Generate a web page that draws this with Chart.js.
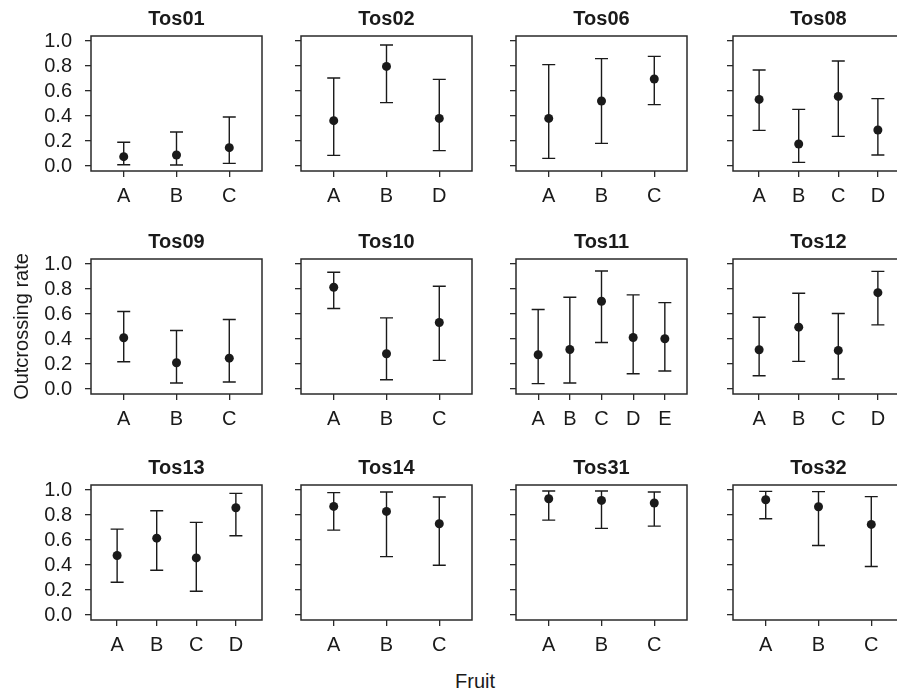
<!DOCTYPE html>
<html>
<head>
<meta charset="utf-8">
<script src="https://cdn.jsdelivr.net/npm/chart.js@4.4.1/dist/chart.umd.min.js"></script>
<style>
  html, body { margin: 0; padding: 0; background: #ffffff; overflow: hidden; }
  body { width: 897px; height: 691px; position: relative; }
  canvas { position: absolute; }
  #fruit-label {
    position: absolute; left: 475px; top: 669px; transform: translateX(-50%);
    font: 20px "Liberation Sans", Arial, sans-serif; line-height: 24px; color: #1a1a1a;
  }
</style>
</head>
<body>
<div id="fruit-label">Fruit</div>
<script>
// One panel per population, fruits within each
const panelNames = ['Tos01', 'Tos02', 'Tos06', 'Tos08',
                    'Tos09', 'Tos10', 'Tos11', 'Tos12',
                    'Tos13', 'Tos14', 'Tos31', 'Tos32'];

const fruitLabels = [
    ['A', 'B', 'C'], ['A', 'B', 'D'], ['A', 'B', 'C'], ['A', 'B', 'C', 'D'],
    ['A', 'B', 'C'], ['A', 'B', 'C'], ['A', 'B', 'C', 'D', 'E'], ['A', 'B', 'C', 'D'],
    ['A', 'B', 'C', 'D'], ['A', 'B', 'C'], ['A', 'B', 'C'], ['A', 'B', 'C']
];

const rateMean = [
    [0.075, 0.088, 0.147], [0.363, 0.797, 0.381], [0.381, 0.52, 0.696], [0.533, 0.176, 0.557, 0.288],
    [0.41, 0.21, 0.247], [0.814, 0.282, 0.532], [0.274, 0.316, 0.702, 0.412, 0.402], [0.314, 0.495, 0.309, 0.771],
    [0.476, 0.615, 0.457, 0.858], [0.869, 0.829, 0.73], [0.93, 0.917, 0.896], [0.922, 0.866, 0.725]
];

const rateLower = [
    [0.01, 0.008, 0.021], [0.085, 0.507, 0.123], [0.061, 0.181, 0.491], [0.285, 0.029, 0.237, 0.088],
    [0.218, 0.048, 0.056], [0.644, 0.074, 0.229], [0.043, 0.048, 0.372, 0.122, 0.144], [0.106, 0.221, 0.08, 0.513],
    [0.262, 0.358, 0.19, 0.634], [0.679, 0.467, 0.398], [0.759, 0.693, 0.711], [0.77, 0.556, 0.388]
];

const rateUpper = [
    [0.19, 0.272, 0.392], [0.704, 0.968, 0.693], [0.811, 0.859, 0.877], [0.768, 0.453, 0.84, 0.539],
    [0.62, 0.468, 0.556], [0.934, 0.569, 0.822], [0.636, 0.734, 0.944, 0.753, 0.691], [0.574, 0.766, 0.604, 0.941],
    [0.687, 0.834, 0.741, 0.973], [0.979, 0.984, 0.944], [0.992, 0.992, 0.984], [0.989, 0.987, 0.947]
];

const yTicks = [0, 0.2, 0.4, 0.6, 0.8, 1.0];

// page layout of the plot boxes
const colLeft = [91, 301, 515.7, 733];
const rowTop = [35.7, 259, 485.3];
const boxW = 171, boxH = 135;
const sideW = 90, titleH = 35, bottomH = 45;

const FONT = '"Liberation Sans", Arial, Helvetica, sans-serif';
const INK = '#1a1a1a';

Chart.defaults.font.family = FONT;
Chart.defaults.color = INK;

// whiskers with caps, drawn before the points
const errorBars = {
    id: 'errorBars',
    beforeDatasetsDraw(chart, args, opts) {
        const { ctx, scales: { x, y } } = chart;
        ctx.save();
        ctx.strokeStyle = INK;
        ctx.lineWidth = 1.4;
        opts.lower.forEach((lo, i) => {
            const px = x.getPixelForValue(i + 1);
            const yLo = y.getPixelForValue(lo);
            const yHi = y.getPixelForValue(opts.upper[i]);
            ctx.beginPath();
            ctx.moveTo(px, yLo); ctx.lineTo(px, yHi);
            ctx.moveTo(px - 6.5, yLo); ctx.lineTo(px + 6.5, yLo);
            ctx.moveTo(px - 6.5, yHi); ctx.lineTo(px + 6.5, yHi);
            ctx.stroke();
        });
        ctx.restore();
    }
};

// the frame round each panel
const frameBox = {
    id: 'frameBox',
    afterDraw(chart) {
        const { ctx, chartArea: a } = chart;
        ctx.save();
        ctx.strokeStyle = '#2a2a2a';
        ctx.lineWidth = 1.5;
        ctx.strokeRect(a.left, a.top, a.right - a.left, a.bottom - a.top);
        ctx.restore();
    }
};

panelNames.forEach((name, p) => {
    const row = Math.floor(p / 4), col = p % 4;
    const cats = fruitLabels[p];
    const n = cats.length;

    const canvas = document.createElement('canvas');
    canvas.width = sideW * 2 + boxW;
    canvas.height = titleH + boxH + bottomH;
    canvas.style.left = (colLeft[col] - sideW) + 'px';
    canvas.style.top = (rowTop[row] - titleH) + 'px';
    document.body.appendChild(canvas);

    new Chart(canvas, {
        type: 'scatter',
        data: {
            datasets: [{
                data: rateMean[p].map((v, i) => ({ x: i + 1, y: v })),
                backgroundColor: INK,
                borderWidth: 0,
                pointRadius: 4.5,
                pointHoverRadius: 4.5
            }]
        },
        options: {
            responsive: false,
            animation: false,
            devicePixelRatio: 1,
            layout: { padding: { left: 0, right: sideW, top: 0, bottom: 0 } },
            plugins: {
                legend: { display: false },
                tooltip: { enabled: false },
                title: {
                    display: true,
                    fullSize: false, // centre over the plot box only
                    text: name,
                    color: INK,
                    font: { size: 20, weight: 'bold', family: FONT },
                    padding: { top: 6, bottom: 5 }
                },
                errorBars: { lower: rateLower[p], upper: rateUpper[p] }
            },
            scales: {
                x: {
                    type: 'linear',
                    // R style: half a slot either side plus 4%
                    min: 0.5 - 0.04 * n,
                    max: n + 0.5 + 0.04 * n,
                    afterBuildTicks: s => { s.ticks = cats.map((c, i) => ({ value: i + 1 })); },
                    afterFit: s => { s.height = bottomH; },
                    grid: { drawOnChartArea: false, drawTicks: true, tickLength: 6, color: '#2a2a2a', lineWidth: 1.3 },
                    border: { display: false },
                    ticks: {
                        autoSkip: false,
                        maxRotation: 0,
                        padding: 7,
                        color: INK,
                        font: { size: 20, family: FONT },
                        callback: v => cats[Math.round(v) - 1]
                    }
                },
                y: {
                    min: -0.04,
                    max: 1.04,
                    afterBuildTicks: s => { s.ticks = yTicks.map(v => ({ value: v })); },
                    afterFit: s => { s.width = sideW; },
                    grid: { drawOnChartArea: false, drawTicks: true, tickLength: 6, color: '#2a2a2a', lineWidth: 1.3 },
                    border: { display: false },
                    ticks: {
                        padding: 13,
                        color: INK,
                        font: { size: 20, family: FONT },
                        callback: v => col === 0 ? v.toFixed(1) : ''
                    },
                    title: {
                        display: p === 4,
                        text: 'Outcrossing rate',
                        color: INK,
                        font: { size: 20, family: FONT },
                        padding: { top: 9, bottom: 0 }
                    }
                }
            }
        },
        plugins: [errorBars, frameBox]
    });
});
</script>
</body>
</html>
